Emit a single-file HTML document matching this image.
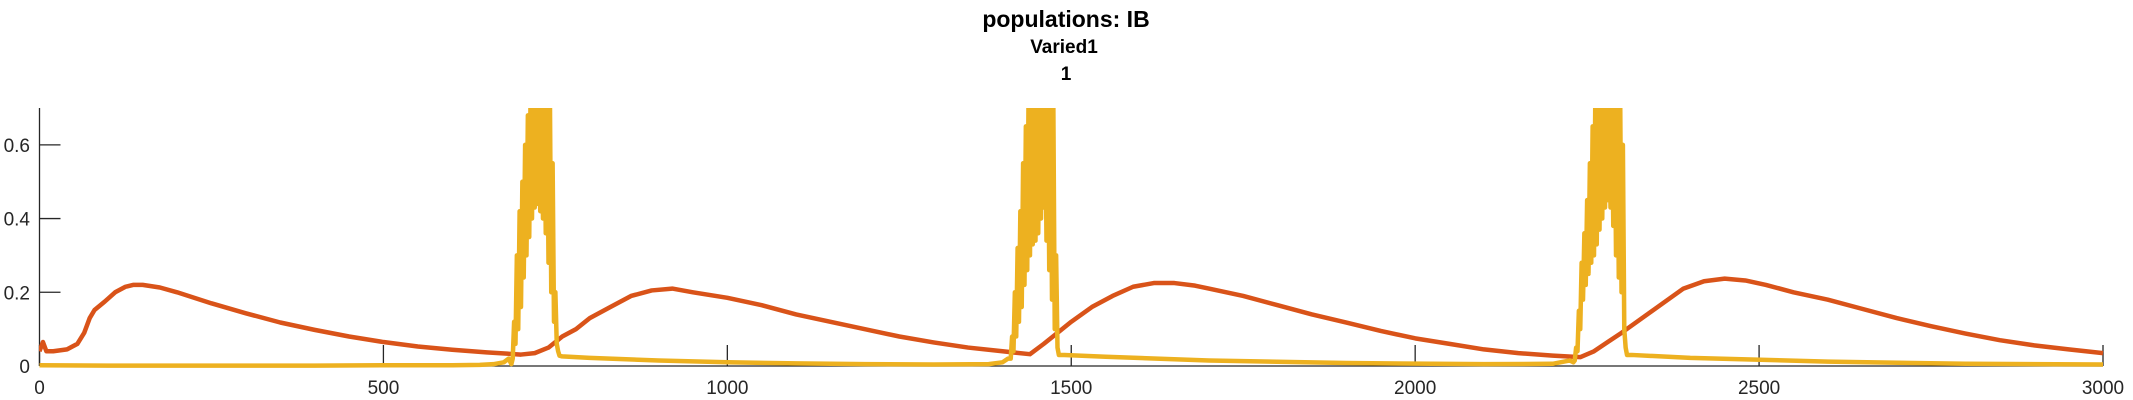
<!DOCTYPE html>
<html><head><meta charset="utf-8"><style>
html,body{margin:0;padding:0;background:#fff;}
svg{display:block;}
text{font-family:"Liberation Sans",sans-serif;}
</style></head><body>
<svg id="chart" width="2133" height="400" viewBox="0 0 2133 400" xmlns="http://www.w3.org/2000/svg">
<defs><clipPath id="plotClip"><rect x="39" y="108" width="2066" height="262"/></clipPath></defs>
<text x="1066" y="27" text-anchor="middle" font-size="23" font-weight="bold">populations: IB</text>
<text x="1064" y="53" text-anchor="middle" font-size="19" font-weight="bold">Varied1</text>
<text x="1066" y="80" text-anchor="middle" font-size="19" font-weight="bold">1</text>
<g id="axes"></g>
<g id="series" clip-path="url(#plotClip)"></g>
</svg>
<script>
const xTicks = [0,500,1000,1500,2000,2500,3000];
const yTicks = [0,0.2,0.4,0.6];
const yTickLabels = ["0","0.2","0.4","0.6"];
const redT = [0,5,10,20,40,55,65,73,80,95,110,125,136,150,175,200,250,300,350,400,450,500,550,600,650,700,720,740,760,780,800,830,860,890,920,950,1000,1050,1100,1150,1200,1250,1300,1350,1400,1440,1460,1480,1500,1530,1560,1590,1620,1650,1680,1700,1750,1800,1850,1900,1950,2000,2050,2100,2150,2200,2240,2260,2280,2300,2330,2360,2390,2420,2450,2480,2510,2550,2600,2650,2700,2750,2800,2850,2900,2950,3000];
const redV = [0.04,0.065,0.04,0.04,0.045,0.06,0.09,0.13,0.152,0.175,0.2,0.215,0.22,0.22,0.213,0.2,0.17,0.143,0.118,0.098,0.08,0.065,0.053,0.044,0.037,0.031,0.035,0.05,0.08,0.1,0.13,0.16,0.19,0.205,0.21,0.2,0.185,0.165,0.14,0.12,0.1,0.08,0.064,0.05,0.04,0.032,0.06,0.09,0.12,0.16,0.19,0.215,0.225,0.225,0.218,0.21,0.19,0.165,0.14,0.118,0.095,0.075,0.06,0.045,0.035,0.028,0.024,0.04,0.065,0.09,0.13,0.17,0.21,0.23,0.237,0.232,0.22,0.2,0.18,0.155,0.13,0.108,0.088,0.07,0.056,0.045,0.035];
const yelT = [0,100,200,300,400,500,600,640,660,675,682,
686,688,690,692,694,696,698,700,702,704,706,708,710,712,714,716,718,720,722,724,726,728,730,732,734,736,738,740,742,744,746,748,750,752,754,756,
760,800,900,1000,1100,1200,1300,1380,1400,1408,
1410,1412,1414,1416,1418,1420,1422,1424,1426,1428,1430,1432,1434,1436,1438,1440,1442,1444,1446,1448,1450,1452,1454,1456,1458,1460,1462,1464,1466,1468,1470,1472,1474,1476,1478,1480,1482,
1490,1550,1700,1900,2100,2200,2225,
2230,2232,2234,2236,2238,2240,2242,2244,2246,2248,2250,2252,2254,2256,2258,2260,2262,2264,2266,2268,2270,2272,2274,2276,2278,2280,2282,2284,2286,2288,2290,2292,2294,2296,2298,2300,2302,2304,2306,2308,
2315,2400,2600,2800,3000];
const yelV = [0.002,0.001,0.001,0.001,0.001,0.002,0.002,0.003,0.005,0.01,0.02,
0.005,0.02,0.12,0.06,0.3,0.1,0.42,0.16,0.5,0.24,0.6,0.3,0.68,0.35,0.75,0.4,0.75,0.43,0.75,0.44,0.75,0.42,0.75,0.4,0.75,0.36,0.75,0.28,0.75,0.2,0.55,0.12,0.2,0.06,0.04,0.028,
0.026,0.022,0.015,0.01,0.007,0.005,0.004,0.005,0.01,0.02,
0.02,0.02,0.08,0.04,0.2,0.08,0.32,0.12,0.42,0.16,0.55,0.22,0.65,0.26,0.75,0.3,0.75,0.33,0.75,0.34,0.75,0.36,0.75,0.4,0.75,0.43,0.75,0.34,0.75,0.26,0.75,0.18,0.7,0.1,0.3,0.05,0.03,
0.03,0.025,0.015,0.008,0.005,0.006,0.015,
0.01,0.015,0.05,0.04,0.15,0.1,0.28,0.18,0.36,0.22,0.45,0.25,0.55,0.28,0.65,0.3,0.75,0.33,0.75,0.37,0.75,0.4,0.75,0.43,0.75,0.45,0.75,0.43,0.75,0.38,0.75,0.3,0.75,0.24,0.75,0.2,0.6,0.1,0.05,0.03,
0.03,0.022,0.012,0.006,0.004];

const X0=39.5, X1=2103, Y0=366, YPX=368.6;
function xs(t){return X0+(X1-X0)*t/3000;}
function ys(v){return Y0-v*YPX;}
const NS='http://www.w3.org/2000/svg';
const axes=document.getElementById('axes');
const series=document.getElementById('series');
function mk(tag,attrs,parent){const e=document.createElementNS(NS,tag);for(const k in attrs)e.setAttribute(k,attrs[k]);parent.appendChild(e);return e;}

let l=mk('line',{x1:X0,y1:108,x2:X0,y2:Y0,stroke:'#262626','stroke-width':1.3},axes);


l=mk('line',{x1:X0,y1:Y0,x2:X1,y2:Y0,stroke:'#262626','stroke-width':1.3},axes);


yTicks.forEach((v,i)=>{
  const t=mk('line',{x1:X0,y1:ys(v),x2:X0+21,y2:ys(v),stroke:'#262626','stroke-width':1.3},axes);
  
  
  const tx=mk('text',{x:30,y:ys(v)+7,'text-anchor':'end','font-size':19,fill:'#262626'},axes);
  tx.textContent=yTickLabels[i];
  
  
});
xTicks.forEach(v=>{
  const t=mk('line',{x1:xs(v),y1:Y0,x2:xs(v),y2:Y0-21,stroke:'#262626','stroke-width':1.3},axes);
  
  
  const tx=mk('text',{x:xs(v),y:394,'text-anchor':'middle','font-size':19,fill:'#262626'},axes);
  tx.textContent=String(v);
  
  
});
function pathFor(T,V){return T.map((t,i)=>(i?'L':'M')+xs(t).toFixed(2)+','+ys(V[i]).toFixed(2)).join('');}
const red=mk('path',{d:pathFor(redT,redV),fill:'none',stroke:'#D95319','stroke-width':4.5,'stroke-linejoin':'round'},series);


const yel=mk('path',{d:pathFor(yelT,yelV),fill:'none',stroke:'#EDB120','stroke-width':4.5,'stroke-linejoin':'round'},series);


</script>
</body></html>
